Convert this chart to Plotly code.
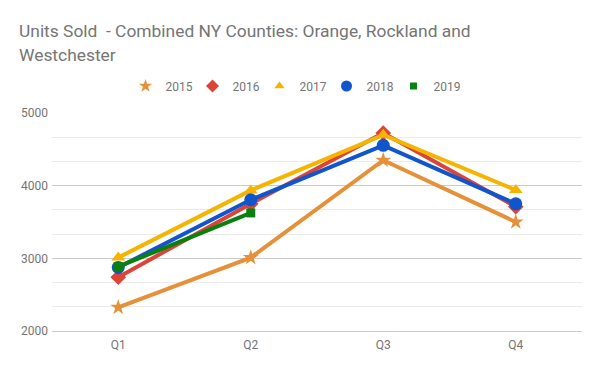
import plotly.graph_objects as go

quarters = ["Q1", "Q2", "Q3", "Q4"]
years = ["2015", "2016", "2017", "2018", "2019"]
s2015 = [2325, 3010, 4350, 3500]
s2016 = [2740, 3750, 4725, 3710]
s2017 = [3010, 3935, 4700, 3940]
s2018 = [2875, 3805, 4555, 3750]
s2019 = [2885, 3625]
y_ticks = [2000, 3000, 4000, 5000]

series = [s2015, s2016, s2017, s2018, s2019]
colors = ["#e69138", "#dc4437", "#f4b400", "#1155cc", "#0a8010"]
symbols = ["star", "diamond", "triangle-up", "circle", "square"]
sizes = [12, 12, 12, 13, 9]
legend_sizes = [10, 10, 9, 11, 7]

fig = go.Figure()
for name, vals, c, sym, sz in zip(years, series, colors, symbols, sizes):
    fig.add_trace(go.Scatter(
        x=quarters[:len(vals)], y=vals, mode="lines+markers", name=name,
        legendgroup=name, showlegend=False,
        line=dict(color=c, width=4),
        marker=dict(symbol=sym, size=sz, color=c, line=dict(width=0)),
    ))
for name, c, sym, sz in zip(years, colors, symbols, legend_sizes):
    fig.add_trace(go.Scatter(
        x=[None], y=[None], mode="markers", name=name, legendgroup=name,
        marker=dict(symbol=sym, size=sz, color=c, line=dict(width=0)),
    ))

font = "Roboto, Arial, sans-serif"
# page body has an 8px margin, so the figure is drawn at (8, 8)
L, T, PW, PH = 44, 105, 530, 218
fig.update_layout(
    width=592, height=363,
    margin=dict(l=L, r=592 - L - PW, t=T, b=363 - T - PH),
    paper_bgcolor="white", plot_bgcolor="white",
    font=dict(family=font, color="#757575", size=12),
    showlegend=True,
    legend=dict(orientation="h", x=(285 - L) / PW, xanchor="center",
                y=1 + (T - 78) / PH, yanchor="middle", yref="paper",
                font=dict(size=12, color="#757575"),
                entrywidth=22, entrywidthmode="pixels", itemwidth=30),
    xaxis=dict(type="category", range=[-0.5, 3.5], showgrid=False,
               tickfont=dict(size=12, color="#757575"), ticks="",
               ticklabelstandoff=3,
               showline=True, linecolor="#cccccc", linewidth=1),
    yaxis=dict(range=[2000, 5000], tickvals=y_ticks, showgrid=True,
               gridcolor="#cccccc", gridwidth=1, zeroline=False,
               tickfont=dict(size=12, color="#757575"), ticks="",
               ticklabelstandoff=3,
               minor=dict(dtick=1000 / 3, tick0=2000, showgrid=True,
                          gridcolor="#ebebeb", gridwidth=1)),
    annotations=[
        dict(text="Units Sold  - Combined NY Counties: Orange, Rockland and",
             xref="paper", yref="paper", x=(9 - L) / PW, y=1 + (T - 23) / PH,
             xanchor="left", yanchor="middle", showarrow=False,
             font=dict(family=font, size=17.4, color="#757575")),
        dict(text="Westchester",
             xref="paper", yref="paper", x=(9 - L) / PW, y=1 + (T - 47) / PH,
             xanchor="left", yanchor="middle", showarrow=False,
             font=dict(family=font, size=17.4, color="#757575")),
    ],
)
fig.write_html("out.html")
